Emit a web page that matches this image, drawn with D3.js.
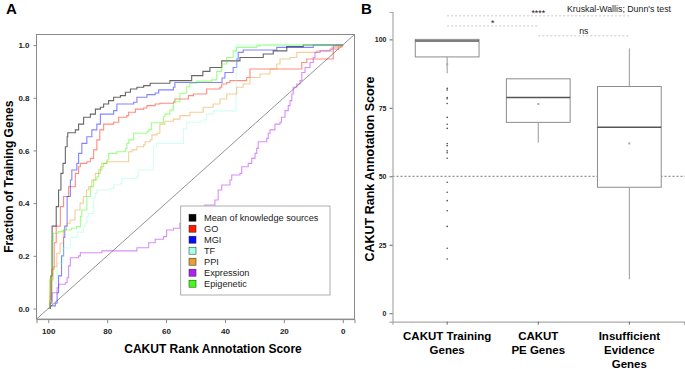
<!DOCTYPE html>
<html>
<head>
<meta charset="utf-8">
<script src="https://cdnjs.cloudflare.com/ajax/libs/d3/7.8.5/d3.min.js"></script>
<style>
  body { margin: 0; background: #fff; }
  svg { font-family: "Liberation Sans", Arial, Helvetica, sans-serif; }
</style>
</head>
<body>
<div id="chart"></div>
<script>
// ---------- Panel A data: [score, fraction of training genes] ----------
var meanSources = [[100,0],[99.3,0.02],[99.1,0.124],[98.7,0.313],[97.3,0.387],[96.5,0.45],[95.7,0.513],[95.0,0.551],[94.2,0.614],[93.6,0.652],[93.4,0.667],[90.8,0.678],[89.7,0.70],[88.0,0.726],[85.7,0.738],[84.0,0.757],[82.3,0.764],[81.2,0.776],[79.5,0.789],[77.8,0.802],[75.5,0.808],[73.8,0.821],[72.1,0.833],[69.9,0.840],[67.6,0.846],[65.4,0.855],[58.7,0.865],[51.3,0.884],[47.5,0.9],[45.1,0.915],[41.1,0.94],[34.9,0.953],[27.0,0.966],[23.6,0.978],[19.0,0.994],[13.4,1.0],[0,1.0]];
var goSeries = [[100,0],[99.5,0.03],[98.8,0.15],[98.0,0.25],[97.3,0.313],[95.9,0.387],[94.8,0.425],[93.1,0.462],[90.8,0.513],[89.7,0.538],[89.1,0.551],[86.9,0.557],[85.7,0.570],[84.6,0.602],[83.5,0.640],[82.5,0.678],[81.2,0.70],[77.8,0.707],[76.1,0.726],[73.3,0.732],[72.7,0.745],[70.4,0.757],[67.6,0.761],[66.5,0.77],[63.7,0.776],[62.1,0.779],[57.5,0.783],[57.0,0.795],[52.4,0.808],[50.7,0.814],[46.2,0.833],[41.7,0.84],[41.1,0.852],[39.4,0.858],[38.3,0.865],[32.6,0.877],[31.5,0.909],[13.9,0.934],[12.2,0.947],[3.2,0.985],[1.5,0.997],[0,1.0]];
var mgiSeries = [[100,0],[99.3,0.01],[97.6,0.02],[97.0,0.06],[96.5,0.124],[95.5,0.2],[94.8,0.27],[94.4,0.313],[93.6,0.425],[92.5,0.488],[92.0,0.526],[90.3,0.551],[89.7,0.589],[88.6,0.627],[86.9,0.652],[85.2,0.678],[83.5,0.70],[82.3,0.738],[77.8,0.751],[76.7,0.776],[71.0,0.783],[69.9,0.802],[66.5,0.812],[63.7,0.818],[62.5,0.83],[57.5,0.84],[57.0,0.858],[41.0,0.875],[40.0,0.896],[37.2,0.915],[36.0,0.947],[35.5,0.972],[33.8,0.981],[22.4,0.991],[10.0,1.0],[0,1.0]];
var tfSeries = [[100,0],[99.4,0.03],[98.5,0.1],[97.0,0.17],[95.0,0.23],[92.5,0.27],[90.0,0.29],[88.1,0.311],[87.5,0.324],[86.9,0.349],[86.4,0.361],[84.6,0.42],[84.0,0.437],[83.5,0.45],[78.9,0.456],[77.8,0.469],[75.5,0.475],[75.0,0.494],[69.9,0.50],[69.5,0.526],[64.3,0.614],[63.2,0.627],[54.1,0.633],[54.1,0.681],[53.0,0.707],[48.5,0.711],[46.8,0.719],[46.2,0.738],[44.0,0.75],[36.2,1.0],[0,1.0]];
var ppiSeries = [[100,0],[99.6,0.05],[99.4,0.109],[98.3,0.159],[97.1,0.21],[96.0,0.248],[94.9,0.298],[93.8,0.324],[92.6,0.336],[90.9,0.374],[89.2,0.40],[88.1,0.425],[87.0,0.45],[86.3,0.462],[85.2,0.488],[84.0,0.513],[82.3,0.538],[81.2,0.551],[80.1,0.557],[72.7,0.595],[71.6,0.602],[69.9,0.614],[67.6,0.621],[67.1,0.633],[65.4,0.640],[64.8,0.659],[63.1,0.665],[62.1,0.70],[60.4,0.711],[57.5,0.719],[55.3,0.732],[51.9,0.745],[47.4,0.764],[44.0,0.776],[41.7,0.795],[39.4,0.814],[36.0,0.840],[33.8,0.852],[31.5,0.877],[28.1,0.89],[24.7,0.909],[22.4,0.928],[21.3,0.947],[17.9,0.953],[15.6,0.972],[8.8,0.978],[3.7,0.991],[0.3,0.997],[0,1.0]];
var expressionSeries = [[100,0],[99.3,0.02],[98.7,0.06],[97.0,0.079],[96.5,0.092],[94.2,0.098],[93.6,0.117],[93.1,0.162],[92.5,0.193],[89.7,0.2],[89.1,0.212],[81.8,0.219],[69.9,0.231],[65.9,0.25],[63.7,0.263],[60.9,0.273],[59.8,0.298],[57.5,0.305],[55.3,0.324],[50.7,0.349],[49.6,0.362],[46.8,0.393],[43.4,0.412],[42.3,0.45],[41.1,0.469],[38.3,0.488],[37.7,0.507],[34.9,0.513],[34.3,0.538],[32.1,0.551],[30.9,0.57],[29.8,0.589],[29.2,0.608],[28.7,0.633],[25.8,0.646],[25.3,0.665],[24.7,0.678],[23.0,0.70],[21.3,0.707],[20.8,0.726],[19.6,0.751],[18.5,0.77],[17.9,0.789],[17.3,0.814],[16.8,0.84],[15.6,0.852],[14.5,0.865],[13.9,0.896],[12.8,0.915],[11.1,0.934],[10.0,0.953],[9.4,0.972],[7.7,0.978],[4.3,0.985],[3.2,0.997],[2.0,1.0],[0,1.0]];
var epigeneticSeries = [[100,0],[99.4,0.109],[98.8,0.254],[98.3,0.286],[96.6,0.292],[94.9,0.298],[92.1,0.305],[90.4,0.311],[89.1,0.349],[88.6,0.374],[86.9,0.425],[85.7,0.462],[84.6,0.488],[83.5,0.50],[82.9,0.526],[81.8,0.551],[80.1,0.564],[79.5,0.589],[76.7,0.595],[73.8,0.608],[73.3,0.627],[72.7,0.640],[71.0,0.665],[66.5,0.671],[65.9,0.678],[65.0,0.705],[60.9,0.728],[60.4,0.738],[58.7,0.753],[57.5,0.785],[55.3,0.817],[53.0,0.842],[51.9,0.855],[49.6,0.863],[44.5,0.868],[42.8,0.9],[41.1,0.928],[39.4,0.953],[37.2,0.978],[36.0,0.991],[29.2,0.997],[28.1,1.0],[0,1.0]];

var legendLabels = ["Mean of knowledge sources", "GO", "MGI", "TF", "PPI", "Expression", "Epigenetic"];
var legendColors = ["#000000", "#ff1a00", "#0a0aff", "#a6ffe6", "#e8a030", "#b020f0", "#40ff10"];
var seriesList = [meanSources, goSeries, mgiSeries, tfSeries, ppiSeries, expressionSeries, epigeneticSeries];
var scoreTicks = [100, 80, 60, 40, 20, 0];
var fractionTicks = [0, 0.2, 0.4, 0.6, 0.8, 1.0];

// ---------- Panel B data ----------
var groupNames = ["CAKUT Training Genes", "CAKUT PE Genes", "Insufficient Evidence Genes"];
var groupLabelLines = [["CAKUT Training", "Genes"], ["CAKUT", "PE Genes"], ["Insufficient", "Evidence", "Genes"]];
var boxQ1 = [93.6, 69.7, 46.0];
var boxMedian = [99.4, 78.8, 67.9];
var boxQ3 = [100, 85.6, 82.8];
var whiskerLow = [87.6, 62.3, 12.4];
var whiskerHigh = [100, 85.6, 96.7];
var groupMeans = [90.9, 76.4, 62.0];
var trainingOutliers = [82.1, 81.5, 78.8, 78.3, 76.6, 71.5, 69.0, 67.5, 62.0, 61.2, 59.3, 58.6, 56.6, 47.8, 44.2, 41.1, 37.4, 31.7, 23.7, 19.8];
var scoreTicksB = [0, 25, 50, 75, 100];
var comparisons = [
  {from: 0, to: 2, y: 108.6, label: "****"},
  {from: 0, to: 1, y: 104.9, label: "*"},
  {from: 1, to: 2, y: 101.3, label: "ns"}
];

var svg = d3.select("#chart").append("svg")
  .attr("width", 685)
  .attr("height", 369);

// ================= Panel A =================
var xA = d3.scaleLinear().domain([104, -4]).range([36.5, 354.5]);
var yA = d3.scaleLinear().domain([-0.04, 1.04]).range([319.1, 34.5]);

var panelA = svg.append("g");

panelA.append("text")
  .attr("x", 6).attr("y", 14)
  .attr("font-size", "15px").attr("font-weight", "bold")
  .text("A");

// diagonal reference line
panelA.append("line")
  .attr("x1", xA(104)).attr("y1", yA(-0.04))
  .attr("x2", xA(-4)).attr("y2", yA(1.04))
  .attr("stroke", "#777").attr("stroke-width", 0.8);

var lineA = d3.line()
  .x(d => xA(d[0]))
  .y(d => yA(d[1]))
  .curve(d3.curveStepAfter);

seriesList.forEach(function(s, i) {
  panelA.append("path")
    .datum(s)
    .attr("d", lineA)
    .attr("fill", "none")
    .attr("stroke", legendColors[i])
    .attr("stroke-opacity", i == 0 ? 0.6 : 0.5)
    .attr("stroke-width", 1.1);
});

// frame
panelA.append("rect")
  .attr("x", xA(104)).attr("y", yA(1.04))
  .attr("width", xA(-4) - xA(104))
  .attr("height", yA(-0.04) - yA(1.04))
  .attr("fill", "none").attr("stroke", "#8a8a8a").attr("stroke-width", 1);

// x axis
var xAxisA = panelA.append("g")
  .attr("transform", `translate(0, ${yA(-0.04)})`)
  .call(d3.axisBottom(xA).tickValues(scoreTicks).tickSize(4).tickPadding(5));
xAxisA.select(".domain").attr("stroke", "#8a8a8a");
xAxisA.selectAll(".tick line").attr("stroke", "#8a8a8a");
xAxisA.selectAll("text")
  .attr("font-size", "8px").attr("font-weight", "bold")
  .attr("font-family", "Liberation Sans, Arial, sans-serif").attr("fill", "#222");

// y axis
var yAxisA = panelA.append("g")
  .attr("transform", `translate(${xA(104)}, 0)`)
  .call(d3.axisLeft(yA).tickValues(fractionTicks).tickFormat(d3.format(".1f")).tickSize(3).tickPadding(4));
yAxisA.select(".domain").remove();
yAxisA.selectAll(".tick line").attr("stroke", "#8a8a8a");
yAxisA.selectAll("text")
  .attr("font-size", "8px").attr("font-weight", "bold")
  .attr("font-family", "Liberation Sans, Arial, sans-serif").attr("fill", "#222");

panelA.append("text")
  .attr("x", 213).attr("y", 352.5)
  .attr("text-anchor", "middle")
  .attr("font-size", "12px").attr("font-weight", "bold")
  .text("CAKUT Rank Annotation Score");

panelA.append("text")
  .attr("transform", "translate(13, 176.7) rotate(-90)")
  .attr("text-anchor", "middle")
  .attr("font-size", "12px").attr("font-weight", "bold")
  .text("Fraction of Training Genes");

// legend
var legend = panelA.append("g");
legend.append("rect")
  .attr("x", 180.7).attr("y", 206)
  .attr("width", 149.3).attr("height", 89)
  .attr("fill", "#fff").attr("stroke", "#999").attr("stroke-width", 0.8);
legendLabels.forEach(function(lab, i) {
  var cy = 217.7 + i * 11;
  legend.append("rect")
    .attr("x", 189).attr("y", cy - 3.5)
    .attr("width", 7).attr("height", 7)
    .attr("fill", legendColors[i]).attr("stroke", "#222").attr("stroke-width", 0.5);
  legend.append("text")
    .attr("x", 204).attr("y", cy + 3.3)
    .attr("font-size", "9.2px")
    .attr("fill", "#222")
    .text(lab);
});

// ================= Panel B =================
var xB = d3.scaleBand().domain(groupNames).range([392.5, 684]).paddingInner(0).paddingOuter(0.1);
var yB = d3.scaleLinear().domain([-3.1, 110]).range([321.7, 12]);
var boxW = xB.bandwidth() * 0.7;
var cx = i => xB(groupNames[i]) + xB.bandwidth() / 2;

var panelB = svg.append("g");

panelB.append("text")
  .attr("x", 361).attr("y", 14)
  .attr("font-size", "15px").attr("font-weight", "bold")
  .text("B");

// reference line at 50
panelB.append("line")
  .attr("x1", 392.5).attr("x2", 685)
  .attr("y1", yB(50)).attr("y2", yB(50))
  .attr("stroke", "#555").attr("stroke-width", 0.8).attr("stroke-dasharray", "2,2");

// whiskers
groupNames.forEach(function(g, i) {
  panelB.append("line")
    .attr("x1", cx(i)).attr("x2", cx(i))
    .attr("y1", yB(boxQ1[i])).attr("y2", yB(whiskerLow[i]))
    .attr("stroke", "#999").attr("stroke-width", 1);
  panelB.append("line")
    .attr("x1", cx(i)).attr("x2", cx(i))
    .attr("y1", yB(boxQ3[i])).attr("y2", yB(whiskerHigh[i]))
    .attr("stroke", "#999").attr("stroke-width", 1);
});

// boxes
panelB.selectAll("rect.box")
  .data(groupNames)
  .enter()
  .append("rect")
  .attr("class", "box")
  .attr("x", (d, i) => cx(i) - boxW / 2)
  .attr("y", (d, i) => yB(boxQ3[i]))
  .attr("width", boxW)
  .attr("height", (d, i) => yB(boxQ1[i]) - yB(boxQ3[i]))
  .attr("fill", "#fff")
  .attr("stroke", "#8c8c8c")
  .attr("stroke-width", 1);

panelB.selectAll("line.median")
  .data(groupNames)
  .enter()
  .append("line")
  .attr("class", "median")
  .attr("x1", (d, i) => cx(i) - boxW / 2)
  .attr("x2", (d, i) => cx(i) + boxW / 2)
  .attr("y1", (d, i) => yB(boxMedian[i]))
  .attr("y2", (d, i) => yB(boxMedian[i]))
  .attr("stroke", "#555")
  .attr("stroke-width", 1.4);

// outliers
panelB.selectAll("circle.out")
  .data(trainingOutliers)
  .enter()
  .append("circle")
  .attr("class", "out")
  .attr("cx", cx(0))
  .attr("cy", d => yB(d))
  .attr("r", 0.8)
  .attr("fill", "#444");

// means
panelB.selectAll("rect.mean")
  .data(groupMeans)
  .enter()
  .append("rect")
  .attr("class", "mean")
  .attr("x", (d, i) => cx(i) - 1)
  .attr("y", d => yB(d) - 1)
  .attr("width", 2).attr("height", 2)
  .attr("fill", "#aaa");

// significance brackets
comparisons.forEach(function(c) {
  panelB.append("line")
    .attr("x1", cx(c.from)).attr("x2", cx(c.to))
    .attr("y1", yB(c.y)).attr("y2", yB(c.y))
    .attr("stroke", "#bbb").attr("stroke-width", 0.8).attr("stroke-dasharray", "2,2");
  panelB.append("text")
    .attr("x", (cx(c.from) + cx(c.to)) / 2)
    .attr("y", yB(c.y) - (c.label == "ns" ? 2 : 0))
    .attr("text-anchor", "middle")
    .attr("font-size", "8.8px")
    .attr("fill", "#222")
    .text(c.label);
});

panelB.append("text")
  .attr("x", 671).attr("y", 11.5)
  .attr("text-anchor", "end")
  .attr("font-size", "8.8px")
  .attr("fill", "#222")
  .text("Kruskal-Wallis; Dunn's test");

// axes
var yAxisB = panelB.append("g")
  .attr("transform", "translate(392.5, 0)")
  .call(d3.axisLeft(yB).tickValues(scoreTicksB).tickSize(3).tickPadding(3));
yAxisB.select(".domain").attr("stroke", "#aaa").attr("stroke-width", 1.2);
yAxisB.selectAll(".tick line").attr("stroke", "#666");
yAxisB.selectAll("text")
  .attr("font-size", "7px").attr("font-weight", "bold")
  .attr("font-family", "Liberation Sans, Arial, sans-serif").attr("fill", "#222");

var xAxisB = panelB.append("g")
  .attr("transform", "translate(0, 321.7)")
  .call(d3.axisBottom(xB).tickSize(3).tickFormat(""));
xAxisB.select(".domain").attr("stroke", "#aaa").attr("stroke-width", 1.2);
xAxisB.selectAll(".tick line").attr("stroke", "#666");

groupLabelLines.forEach(function(lines, i) {
  lines.forEach(function(t, j) {
    panelB.append("text")
      .attr("x", cx(i)).attr("y", 339.7 + j * 14.2)
      .attr("text-anchor", "middle")
      .attr("font-size", "11.5px").attr("font-weight", "bold")
      .text(t);
  });
});

panelB.append("text")
  .attr("transform", "translate(374, 169) rotate(-90)")
  .attr("text-anchor", "middle")
  .attr("font-size", "12.5px").attr("font-weight", "bold")
  .text("CAKUT Rank Annotation Score");
</script>
</body>
</html>
